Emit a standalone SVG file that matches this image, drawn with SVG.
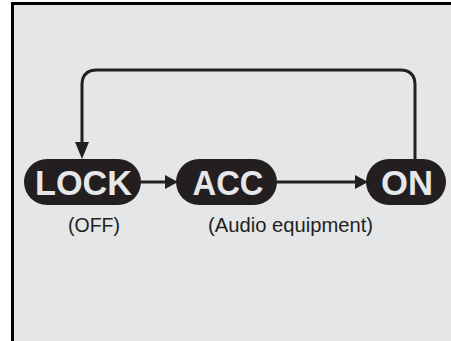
<svg xmlns="http://www.w3.org/2000/svg" width="451" height="341" viewBox="0 0 451 341">
<style>
.pill{fill:#231f20}
.lbl{font-family:"Liberation Sans",Arial,sans-serif;font-weight:bold;font-size:35px;fill:#e6e7e8;text-anchor:middle}
.sub{font-family:"Liberation Sans",Arial,sans-serif;font-size:21px;fill:#231f20;text-anchor:middle}
.ln{fill:none;stroke:#231f20;stroke-width:3}
.ah{fill:#231f20}
</style>
<rect x="0" y="0" width="451" height="341" fill="#ffffff"/>
<rect x="12.5" y="3.5" width="450" height="350" fill="#e5e6e8" stroke="#000" stroke-width="3"/>
<g id="connectors">
<path class="ln" d="M415 160 V85 Q415 70 400 70 H97 Q82 70 82 85 V144"/>
<polygon class="ah" points="75,142 89,142 82,159"/>
<line class="ln" x1="140" y1="182" x2="166" y2="182"/>
<polygon class="ah" points="165,175 165,189 178,182"/>
<line class="ln" x1="276" y1="182" x2="356" y2="182"/>
<polygon class="ah" points="355,175 355,189 368,182"/>
</g>
<g id="lock">
<rect class="pill" x="24" y="159" width="117" height="46" rx="23"/>
<text class="lbl" x="83.5" y="195" textLength="97" lengthAdjust="spacingAndGlyphs">LOCK</text>
<text class="sub" x="94" y="232" textLength="52" lengthAdjust="spacingAndGlyphs">(OFF)</text>
</g>
<g id="acc">
<rect class="pill" x="176" y="159" width="101" height="46" rx="23"/>
<text class="lbl" x="228" y="195" textLength="71" lengthAdjust="spacingAndGlyphs">ACC</text>
<text class="sub" x="290.5" y="232" textLength="165" lengthAdjust="spacingAndGlyphs">(Audio equipment)</text>
</g>
<g id="on">
<rect class="pill" x="366" y="159" width="80" height="46" rx="23"/>
<text class="lbl" x="407" y="195" textLength="52" lengthAdjust="spacingAndGlyphs">ON</text>
</g>
</svg>
